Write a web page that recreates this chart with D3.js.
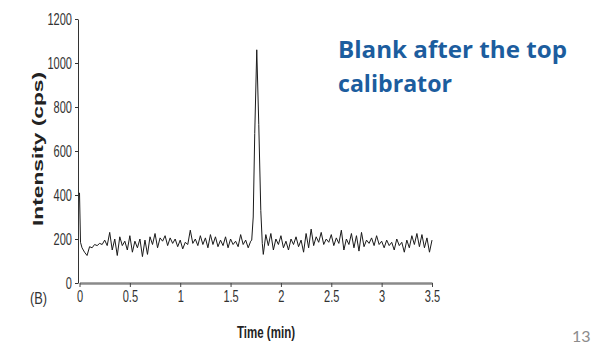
<!DOCTYPE html>
<html>
<head>
<meta charset="utf-8">
<script src="https://cdn.jsdelivr.net/npm/d3@7"></script>
<style>
  html, body { margin: 0; padding: 0; background: #fff; }
  svg { display: block; }
</style>
</head>
<body>
<svg id="chart" width="593" height="345"></svg>
<script>
// ---- data ----
const times = [
  0.000, 0.010, 0.025, 0.050, 0.075, 0.100, 0.125, 0.150, 0.175, 0.200,
  0.225, 0.250, 0.275, 0.300, 0.325, 0.350, 0.375, 0.400, 0.425, 0.450,
  0.475, 0.500, 0.525, 0.550, 0.575, 0.600, 0.625, 0.650, 0.675, 0.700,
  0.725, 0.750, 0.775, 0.800, 0.825, 0.850, 0.875, 0.900, 0.925, 0.950,
  0.975, 1.000, 1.025, 1.050, 1.075, 1.100, 1.125, 1.150, 1.175, 1.200,
  1.225, 1.250, 1.275, 1.300, 1.325, 1.350, 1.375, 1.400, 1.425, 1.450,
  1.475, 1.500, 1.525, 1.550, 1.575, 1.600, 1.625, 1.650, 1.675, 1.700,
  1.710, 1.725, 1.740, 1.760, 1.780, 1.800, 1.815, 1.825, 1.850, 1.875,
  1.900, 1.925, 1.950, 1.975, 2.000, 2.025, 2.050, 2.075, 2.100, 2.125,
  2.150, 2.175, 2.200, 2.225, 2.250, 2.275, 2.300, 2.325, 2.350, 2.375,
  2.400, 2.425, 2.450, 2.475, 2.500, 2.525, 2.550, 2.575, 2.600, 2.625,
  2.650, 2.675, 2.700, 2.725, 2.750, 2.775, 2.800, 2.825, 2.850, 2.875,
  2.900, 2.925, 2.950, 2.975, 3.000, 3.025, 3.050, 3.075, 3.100, 3.125,
  3.150, 3.175, 3.200, 3.225, 3.250, 3.275, 3.300, 3.325, 3.350, 3.375,
  3.400, 3.425, 3.450, 3.475, 3.500
];
const intensity = [
  410, 185, 160, 140, 125, 165, 160, 175, 170, 180,
  175, 195, 170, 230, 150, 200, 125, 210, 170, 190,
  150, 215, 140, 190, 160, 200, 120, 195, 130, 210,
  175, 225, 160, 205, 190, 215, 170, 205, 180, 200,
  165, 195, 155, 185, 175, 240, 180, 200, 170, 215,
  175, 205, 160, 220, 175, 210, 165, 195, 170, 210,
  160, 200, 175, 190, 165, 220, 175, 195, 160, 190,
  195, 300, 680, 1060, 720, 330, 180, 130, 220, 170,
  225, 150, 200, 175, 215, 160, 190, 150, 200, 175,
  210, 165, 195, 140, 225, 160, 245, 170, 210, 185,
  230, 175, 200, 185, 220, 170, 205, 180, 240, 150,
  200, 175, 225, 160, 215, 145, 230, 165, 195, 180,
  205, 170, 215, 175, 190, 160, 195, 170, 185, 150,
  200, 170, 185, 140, 195, 160, 215, 175, 225, 165,
  220, 160, 205, 140, 195
];
const xTicks = [0, 0.5, 1, 1.5, 2, 2.5, 3, 3.5];
const xTickLabels = ["0", "0.5", "1", "1.5", "2", "2.5", "3", "3.5"];
const yTicks = [0, 200, 400, 600, 800, 1000, 1200];
const yTickLabels = ["0", "200", "400", "600", "800", "1000", "1200"];
const titleLines = ["Blank after the top", "calibrator"];
const xLabel = "Time (min)";
const yLabel = "Intensity (cps)";
const panelLabel = "(B)";
const pageNumber = "13";

// ---- drawing ----
const svg = d3.select("#chart");
const x = d3.scaleLinear().domain([0, 3.5]).range([79.5, 432]);
const y = d3.scaleLinear().domain([0, 1200]).range([283, 19]);
const sx = 0.65;
const tickFont = "'Liberation Sans', Arial, sans-serif";

// Y axis
const yAxis = svg.append("g")
  .attr("transform", `translate(${x(0) - 1.5},0)`)
  .call(d3.axisLeft(y).tickValues(yTicks).tickFormat((d, i) => yTickLabels[i])
    .tickSize(3).tickPadding(3).tickSizeOuter(0));
yAxis.select(".domain").attr("stroke", "#333").attr("stroke-width", 1);
yAxis.selectAll(".tick line").attr("stroke", "#333");
yAxis.selectAll(".tick text")
  .attr("font-family", tickFont)
  .attr("font-size", 17)
  .attr("fill", "#333")
  .attr("x", -6 / sx)
  .attr("transform", `scale(${sx},1)`);

// X axis
const xAxis = svg.append("g")
  .attr("transform", `translate(0,${y(0)})`)
  .call(d3.axisBottom(x).tickValues(xTicks).tickFormat((d, i) => xTickLabels[i])
    .tickSize(4).tickPadding(3).tickSizeOuter(0));
xAxis.select(".domain").attr("stroke", "#8a8a8a").attr("stroke-width", 2.5);
xAxis.selectAll(".tick line").attr("stroke", "#444");
xAxis.selectAll(".tick text")
  .attr("font-family", tickFont)
  .attr("font-size", 17)
  .attr("fill", "#333")
  .attr("transform", `scale(${sx},1)`)
  .attr("x", 0);

// trace
const line = d3.line()
  .x((d, i) => x(times[i]))
  .y(d => y(d));
svg.append("path")
  .datum(intensity)
  .attr("fill", "none")
  .attr("stroke", "#1a1a1a")
  .attr("stroke-width", 1)
  .attr("stroke-linejoin", "round")
  .attr("d", line);

// axis titles
svg.append("text")
  .attr("x", 266).attr("y", 338)
  .attr("text-anchor", "middle")
  .attr("font-family", tickFont)
  .attr("font-weight", "bold")
  .attr("font-size", 16)
  .attr("fill", "#222")
  .attr("textLength", 58)
  .attr("lengthAdjust", "spacingAndGlyphs")
  .text(xLabel);

svg.append("text")
  .attr("transform", "translate(43,149) rotate(-90)")
  .attr("text-anchor", "middle")
  .attr("font-family", tickFont)
  .attr("font-weight", "bold")
  .attr("font-size", 15)
  .attr("fill", "#222")
  .attr("textLength", 154)
  .attr("lengthAdjust", "spacingAndGlyphs")
  .text(yLabel);

svg.append("text")
  .attr("x", 30 / 0.8).attr("y", 304)
  .attr("transform", "scale(0.8,1)")
  .attr("font-family", tickFont)
  .attr("font-size", 16)
  .attr("fill", "#333")
  .text(panelLabel);

// title
const titleLens = [229, 114];
titleLines.forEach((t, i) => {
  svg.append("text")
    .attr("x", 338).attr("y", 58 + i * 34)
    .attr("font-family", "'Open Sans', Lato, sans-serif")
    .attr("font-weight", "bold")
    .attr("font-size", 23)
    .attr("fill", "#1c5d9e")
    .attr("textLength", titleLens[i])
    .attr("lengthAdjust", "spacingAndGlyphs")
    .text(t);
});

// page number
svg.append("text")
  .attr("x", 572).attr("y", 342)
  .attr("font-family", "Lato, 'Open Sans', sans-serif")
  .attr("font-size", 16)
  .attr("fill", "#8c8c8c")
  .text(pageNumber);
</script>
</body>
</html>
